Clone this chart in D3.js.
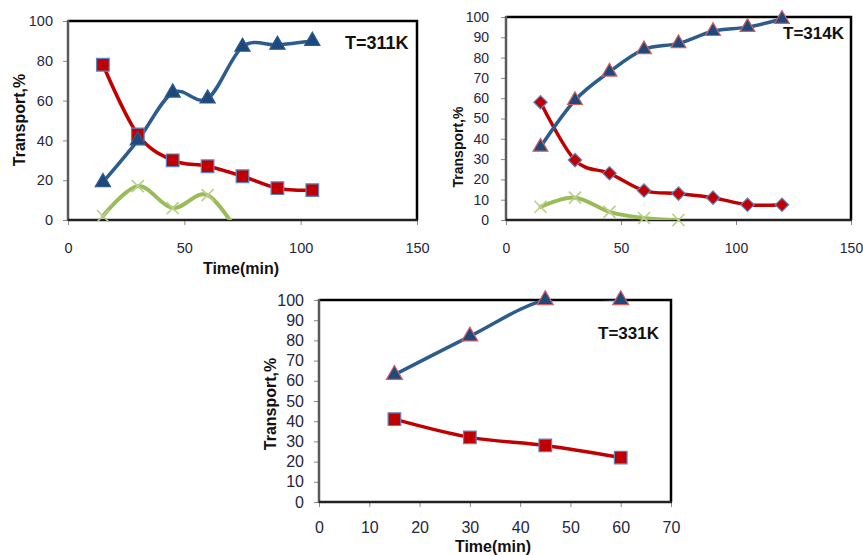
<!DOCTYPE html>
<html>
<head>
<meta charset="utf-8">
<script src="https://cdn.jsdelivr.net/npm/d3@7"></script>
<style>
  html, body { margin: 0; padding: 0; background: #fff; }
  svg { display: block; }
  text { font-family: "Liberation Sans", Arial, sans-serif; }
</style>
</head>
<body>
<svg id="fig" width="863" height="555"></svg>
<script>
// ---- T = 311 K ----
const time311 = [15, 30, 45, 60, 75, 90, 105];
const feed311 = [19, 40, 64, 61, 87, 88, 90];          // blue triangles
const strip311 = [78, 43, 30, 27, 22, 16, 15];         // red squares
const time311Mem = [15, 30, 45, 60, 75];
const mem311 = [2, 17, 6, 12.5, -10];                  // green crosses

// ---- T = 314 K ----
const time314 = [15, 30, 45, 60, 75, 90, 105, 120];
const feed314 = [36, 59, 73, 84, 87, 93, 95, 99];
const strip314 = [58, 29.5, 23, 14.5, 13, 11, 7.5, 7.5];
const time314Mem = [15, 30, 45, 60, 75];
const mem314 = [6.5, 11, 4, 1, 0];

// ---- T = 331 K ----
const time331 = [15, 30, 45, 60];
const feed331 = [63, 82, 100, 100];
const strip331 = [41, 32, 28, 22];

const xTicksWide = [0, 50, 100, 150];
const xTicks331 = [0, 10, 20, 30, 40, 50, 60, 70];
const yTicks20 = [0, 20, 40, 60, 80, 100];
const yTicks10 = [0, 10, 20, 30, 40, 50, 60, 70, 80, 90, 100];

const zip = (xs, ys) => xs.map((t, i) => ({ t, v: ys[i] }));

const svg = d3.select("#fig");

const COL = {
  blue: "#2C5B8E", blueFill: "#1F497D",
  red: "#C00000", redEdge: "#5B86C2",
  green: "#9BBB59", greenMark: "#B8D08A",
  tick: "#262640", axis: "#5A5A5A"
};

function drawPanel(p) {
  const g = svg.append("g");
  const x = d3.scaleLinear().domain(p.xDomain).range([p.left, p.right]);
  const y = d3.scaleLinear().domain([0, 100]).range([p.bottom, p.top]);

  const clipId = "clip-" + p.id;
  g.append("clipPath").attr("id", clipId)
    .append("rect")
    .attr("x", p.left).attr("y", p.top)
    .attr("width", p.right - p.left).attr("height", p.bottom - p.top);

  // axes
  const yAxis = g.append("g").attr("transform", `translate(${p.left},0)`)
    .call(d3.axisLeft(y).tickValues(p.yTicks).tickSize(5).tickPadding(p.yPad));
  const xAxis = g.append("g").attr("transform", `translate(0,${p.bottom})`)
    .call(d3.axisBottom(x).tickValues(p.xTicks).tickSize(5).tickPadding(p.xPad));
  [yAxis, xAxis].forEach(a => {
    a.select(".domain").remove();
    a.selectAll(".tick line").attr("stroke", "#8A8A8A").attr("stroke-width", 1);
    a.selectAll(".tick text")
      .attr("fill", COL.tick)
      .style("font-size", p.tickFont + "px")
      .style("font-family", "'Liberation Sans', Arial, sans-serif");
  });

  // plot frame: black top/right, grey axis lines left/bottom
  g.append("path")
    .attr("d", `M${p.left},${p.top}H${p.right}V${p.bottom}`)
    .attr("fill", "none").attr("stroke", "#000").attr("stroke-width", 2.5);
  g.append("line")
    .attr("x1", p.left).attr("x2", p.left).attr("y1", p.top - 1).attr("y2", p.bottom + 1)
    .attr("stroke", COL.axis).attr("stroke-width", 2.5);
  g.append("line")
    .attr("x1", p.left).attr("x2", p.right + 1).attr("y1", p.bottom).attr("y2", p.bottom)
    .attr("stroke", "#222").attr("stroke-width", 2.5);

  const line = d3.line()
    .x(d => x(d.t)).y(d => y(d.v))
    .curve(d3.curveCardinal.tension(0));

  const lines = g.append("g").attr("clip-path", `url(#${clipId})`);
  const marks = g.append("g");

  p.series.forEach(s => {
    lines.append("path")
      .datum(s.data)
      .attr("d", line)
      .attr("fill", "none")
      .attr("stroke", s.color)
      .attr("stroke-width", s.width)
      .attr("stroke-linejoin", "round")
      .attr("stroke-linecap", "round");

    const pts = s.data.filter(d => d.v >= 0 && d.v <= 100);
    const sel = marks.selectAll(null).data(pts).enter();
    if (s.marker === "cross") {
      sel.append("path")
        .attr("transform", d => `translate(${x(d.t)},${y(d.v)})`)
        .attr("d", "M-6,-6L6,6M-6,6L6,-6")
        .attr("stroke", COL.greenMark).attr("stroke-width", 1.6).attr("fill", "none");
    } else {
      const sym = {
        triangle: d3.symbol(d3.symbolTriangle, s.size),
        square: d3.symbol(d3.symbolSquare, s.size),
        diamond: d3.symbol(d3.symbolSquare, s.size)
      }[s.marker];
      sel.append("path")
        .attr("transform", d => `translate(${x(d.t)},${y(d.v)})` +
          (s.marker === "diamond" ? " rotate(45)" : ""))
        .attr("d", sym)
        .attr("fill", s.fill)
        .attr("stroke", s.edge)
        .attr("stroke-width", 1.2);
    }
  });

  // temperature tag
  g.append("text")
    .attr("x", p.tag.x).attr("y", p.tag.y)
    .attr("font-size", p.tag.size).attr("font-weight", "bold")
    .attr("fill", "#111")
    .text(p.tag.text);

  // axis titles
  g.append("text")
    .attr("transform", `translate(${p.yTitle.x},${p.yTitle.y}) rotate(-90)`)
    .attr("text-anchor", "middle").attr("dy", "0.35em")
    .attr("font-size", p.yTitle.size).attr("font-weight", "bold").attr("fill", "#111")
    .text("Transport,%");
  if (p.xTitle) {
    g.append("text")
      .attr("x", p.xTitle.x).attr("y", p.xTitle.y)
      .attr("text-anchor", "middle")
      .attr("font-size", p.xTitle.size).attr("font-weight", "bold").attr("fill", "#111")
      .text("Time(min)");
  }
}

drawPanel({
  id: "a", left: 68, right: 417, top: 21, bottom: 220,
  xDomain: [0, 150], xTicks: xTicksWide, yTicks: yTicks20,
  tickFont: 14.5, yPad: 10, xPad: 18,
  tag: { text: "T=311K", x: 345, y: 49, size: 18 },
  yTitle: { x: 19, y: 120, size: 16 },
  xTitle: { x: 241, y: 274, size: 16 },
  series: [
    { data: zip(time311Mem, mem311), color: COL.green, width: 4, marker: "cross" },
    { data: zip(time311, strip311), color: COL.red, width: 3.5, marker: "square",
      size: 160, fill: COL.red, edge: COL.redEdge },
    { data: zip(time311, feed311), color: COL.blue, width: 3.5, marker: "triangle",
      size: 100, fill: COL.blueFill, edge: "#2C5B8E" }
  ]
});

drawPanel({
  id: "b", left: 506, right: 851, top: 17, bottom: 220,
  xDomain: [0, 150], xTicks: xTicksWide, yTicks: yTicks10,
  tickFont: 14, yPad: 12, xPad: 18,
  tag: { text: "T=314K", x: 783, y: 39, size: 17 },
  yTitle: { x: 458, y: 147, size: 14 },
  xTitle: null,
  series: [
    { data: zip(time314Mem, mem314), color: COL.green, width: 4, marker: "cross" },
    { data: zip(time314, strip314), color: COL.red, width: 3.5, marker: "diamond",
      size: 90, fill: COL.red, edge: COL.redEdge },
    { data: zip(time314, feed314), color: COL.blue, width: 3.5, marker: "triangle",
      size: 95, fill: COL.blueFill, edge: "#D06060" }
  ]
});

drawPanel({
  id: "c", left: 319, right: 671, top: 300, bottom: 502,
  xDomain: [0, 70], xTicks: xTicks331, yTicks: yTicks10,
  tickFont: 16, yPad: 10, xPad: 15,
  tag: { text: "T=331K", x: 598, y: 339, size: 17 },
  yTitle: { x: 270, y: 404, size: 16 },
  xTitle: { x: 493, y: 552, size: 16 },
  series: [
    { data: zip(time331, strip331), color: COL.red, width: 3.5, marker: "square",
      size: 160, fill: COL.red, edge: COL.redEdge },
    { data: zip(time331, feed331), color: COL.blue, width: 3.5, marker: "triangle",
      size: 110, fill: COL.blueFill, edge: "#D06060" }
  ]
});
</script>
</body>
</html>
